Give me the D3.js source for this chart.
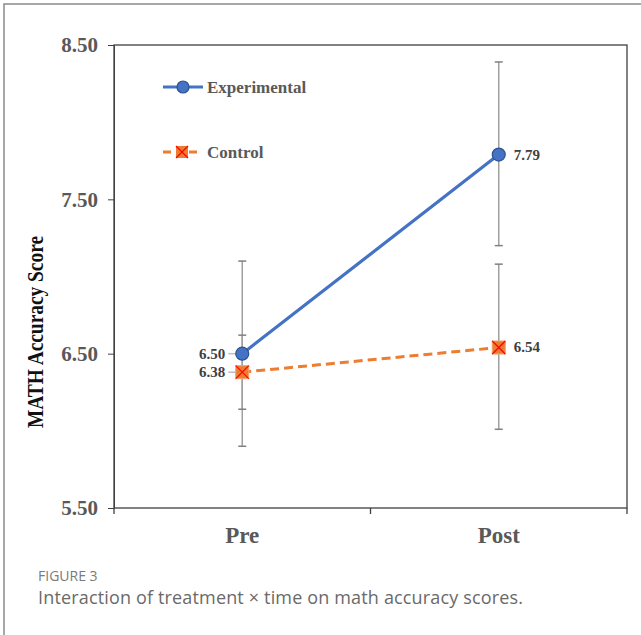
<!DOCTYPE html>
<html>
<head>
<meta charset="utf-8">
<script src="https://cdn.jsdelivr.net/npm/d3@7"></script>
<style>
  body { margin: 0; background: #fff; }
  svg text { font-family: "Liberation Serif", "Times New Roman", serif; }
  .caption { font-family: "Open Sans", "Noto Sans", sans-serif; }
</style>
</head>
<body>
<div id="chart"></div>
<script>
// Data
const times = ["Pre", "Post"];
const yTicks = [5.5, 6.5, 7.5, 8.5];
const experimental = [6.50, 7.79];
const experimentalLow = [5.90, 7.20];
const experimentalHigh = [7.10, 8.39];
const control = [6.38, 6.54];
const controlLow = [6.14, 6.01];
const controlHigh = [6.62, 7.08];

const width = 641, height = 635;
const margin = {top: 45, right: 14, bottom: 127, left: 114};

const svg = d3.select("#chart").append("svg")
    .attr("width", width)
    .attr("height", height);

// Outer figure frame (top and left edges)
svg.append("path")
    .attr("d", "M4,635 L4,4 L641,4")
    .attr("fill", "none")
    .attr("stroke", "#8a8a8a")
    .attr("stroke-width", 1.5);

const x = d3.scaleBand()
    .domain(times)
    .range([margin.left, width - margin.right]);

const y = d3.scaleLinear()
    .domain([5.5, 8.5])
    .range([height - margin.bottom, margin.top]);

const xMid = d => x(d) + x.bandwidth() / 2;

// Plot frame
svg.append("rect")
    .attr("x", x.range()[0])
    .attr("y", y(8.5))
    .attr("width", x.range()[1] - x.range()[0])
    .attr("height", y(5.5) - y(8.5))
    .attr("fill", "none")
    .attr("stroke", "#404040")
    .attr("stroke-width", 1.3);

// Y axis
const yAxis = d3.axisLeft(y)
    .tickValues(yTicks)
    .tickFormat(d3.format(".2f"))
    .tickSize(6)
    .tickPadding(10);

const gy = svg.append("g")
    .attr("transform", "translate(" + margin.left + ",0)")
    .call(yAxis);
gy.select(".domain").attr("stroke", "#404040");
gy.selectAll(".tick line").attr("stroke", "#404040");
gy.selectAll(".tick text")
    .attr("fill", "#595959")
    .attr("font-size", 21)
    .attr("font-weight", "bold")
    .attr("font-family", "Liberation Serif, serif");

// X axis with ticks at band boundaries
const gx = svg.append("g")
    .attr("transform", "translate(0," + y(5.5) + ")");
gx.selectAll("line.btick")
    .data([x.range()[0], x("Post"), x.range()[1]])
    .enter().append("line")
    .attr("class", "btick")
    .attr("x1", d => d).attr("x2", d => d)
    .attr("y1", 0).attr("y2", 6)
    .attr("stroke", "#404040")
    .attr("stroke-width", 1.3);
gx.selectAll("text")
    .data(times)
    .enter().append("text")
    .attr("x", d => xMid(d))
    .attr("y", 35)
    .attr("text-anchor", "middle")
    .attr("fill", "#595959")
    .attr("font-size", 23)
    .attr("font-weight", "bold")
    .text(d => d);

// Y axis title
svg.append("text")
    .attr("transform", "translate(43,332) rotate(-90)")
    .attr("text-anchor", "middle")
    .attr("font-size", 24)
    .attr("font-weight", "bold")
    .attr("fill", "#111")
    .attr("textLength", 192)
    .attr("lengthAdjust", "spacingAndGlyphs")
    .text("MATH Accuracy Score");

// Error bars
function errorBars(low, high) {
    times.forEach((t, i) => {
        const cx = xMid(t);
        svg.append("line")
            .attr("x1", cx).attr("x2", cx)
            .attr("y1", y(low[i])).attr("y2", y(high[i]))
            .attr("stroke", "#a0a0a0").attr("stroke-width", 1.5);
        [low[i], high[i]].forEach(v => {
            svg.append("line")
                .attr("x1", cx - 4).attr("x2", cx + 4)
                .attr("y1", y(v)).attr("y2", y(v))
                .attr("stroke", "#808080").attr("stroke-width", 1.5);
        });
    });
}
errorBars(experimentalLow, experimentalHigh);
errorBars(controlLow, controlHigh);

const line = d3.line()
    .x((d, i) => xMid(times[i]))
    .y(d => y(d));

// Control line (dashed)
svg.append("path")
    .datum(control)
    .attr("d", line)
    .attr("fill", "none")
    .attr("stroke", "#ed7d31")
    .attr("stroke-width", 3)
    .attr("stroke-dasharray", "9,5");

// Experimental line
svg.append("path")
    .datum(experimental)
    .attr("d", line)
    .attr("fill", "none")
    .attr("stroke", "#4472c4")
    .attr("stroke-width", 3.2);

// Leader lines for Pre labels
[experimental[0], control[0]].forEach(v => {
    svg.append("line")
        .attr("x1", xMid("Pre") - 14).attr("x2", xMid("Pre") - 2)
        .attr("y1", y(v)).attr("y2", y(v))
        .attr("stroke", "#bfbfbf").attr("stroke-width", 1.5);
});

function squareMarker(cx, cy) {
    const s = 6.5;
    svg.append("rect")
        .attr("x", cx - s).attr("y", cy - s)
        .attr("width", 2 * s).attr("height", 2 * s)
        .attr("fill", "#ed7d31")
        .attr("stroke", "#f4a36a").attr("stroke-width", 1);
    svg.append("path")
        .attr("d", `M${cx - s},${cy - s}L${cx + s},${cy + s}M${cx + s},${cy - s}L${cx - s},${cy + s}`)
        .attr("stroke", "#ff0000").attr("stroke-width", 1.2);
}

function circleMarker(cx, cy) {
    svg.append("circle")
        .attr("cx", cx).attr("cy", cy).attr("r", 6.5)
        .attr("fill", "#4472c4")
        .attr("stroke", "#2f528f").attr("stroke-width", 1.2);
}

control.forEach((v, i) => squareMarker(xMid(times[i]), y(v)));
experimental.forEach((v, i) => circleMarker(xMid(times[i]), y(v)));

// Data labels
function dataLabel(t, v, side) {
    svg.append("text")
        .attr("x", side === "left" ? xMid(t) - 17 : xMid(t) + 15)
        .attr("y", y(v) + 5)
        .attr("text-anchor", side === "left" ? "end" : "start")
        .attr("font-size", 15)
        .attr("font-weight", "bold")
        .attr("fill", "#404040")
        .text(v.toFixed(2));
}
dataLabel("Pre", experimental[0], "left");
dataLabel("Pre", control[0], "left");
dataLabel("Post", experimental[1], "right");
dataLabel("Post", control[1], "right");

// Legend
const legend = svg.append("g");
legend.append("line")
    .attr("x1", 163).attr("x2", 203).attr("y1", 87).attr("y2", 87)
    .attr("stroke", "#4472c4").attr("stroke-width", 3.2);
legend.append("circle")
    .attr("cx", 183).attr("cy", 87).attr("r", 6)
    .attr("fill", "#4472c4").attr("stroke", "#2f528f").attr("stroke-width", 1.2);
legend.append("text")
    .attr("x", 207).attr("y", 93)
    .attr("font-size", 17).attr("font-weight", "bold").attr("fill", "#595959")
    .text("Experimental");

legend.append("line")
    .attr("x1", 163).attr("x2", 199).attr("y1", 152).attr("y2", 152)
    .attr("stroke", "#ed7d31").attr("stroke-width", 3)
    .attr("stroke-dasharray", "8,5");
legend.append("rect")
    .attr("x", 176).attr("y", 146).attr("width", 12).attr("height", 12)
    .attr("fill", "#ed7d31");
legend.append("path")
    .attr("d", "M176,146L188,158M188,146L176,158")
    .attr("stroke", "#ff0000").attr("stroke-width", 1.2);
legend.append("text")
    .attr("x", 207).attr("y", 158)
    .attr("font-size", 17).attr("font-weight", "bold").attr("fill", "#595959")
    .text("Control");

// Caption
svg.append("text")
    .attr("class", "caption")
    .attr("x", 38).attr("y", 581)
    .attr("font-size", 14)
    .attr("fill", "#7a7a7a")
    .text("FIGURE 3");
svg.append("text")
    .attr("class", "caption")
    .attr("x", 38).attr("y", 604)
    .attr("font-size", 18)
    .attr("fill", "#6a6a6a")
    .attr("textLength", 485)
    .attr("lengthAdjust", "spacing")
    .text("Interaction of treatment \u00d7 time on math accuracy scores.");
</script>
</body>
</html>
